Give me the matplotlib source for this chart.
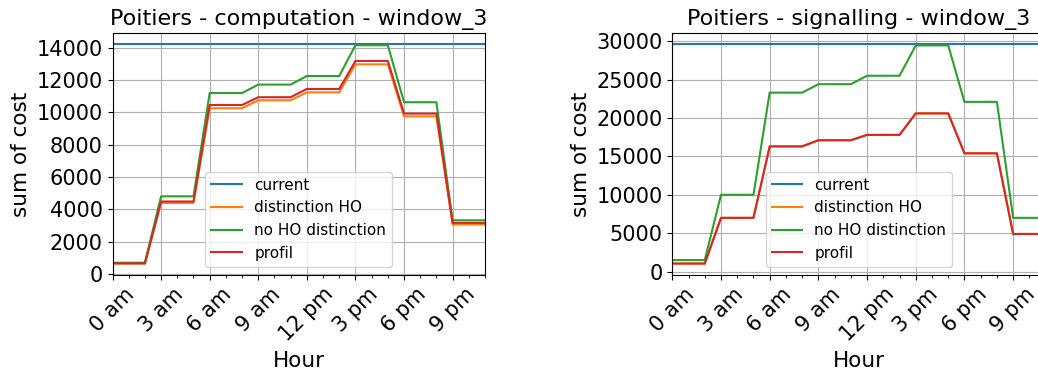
import numpy as np
import matplotlib
matplotlib.use("Agg")
import matplotlib.pyplot as plt
from matplotlib.ticker import MultipleLocator

# Horas del dia y etiquetas del eje x
horas = np.arange(24)
ticks_horas = [0, 3, 6, 9, 12, 15, 18, 21]
etiquetas_horas = ["0 am", "3 am", "6 am", "9 am", "12 pm", "3 pm", "6 pm", "9 pm"]

# Valores por ventana de 3 horas (window_3) - computation
comp_current = 14200
comp_distinction = [660, 4400, 10250, 10740, 11230, 12960, 9750, 3070]
comp_no_distinction = [710, 4810, 11190, 11710, 12240, 14140, 10620, 3330]
comp_profil = [670, 4490, 10450, 10930, 11440, 13170, 9920, 3170]

# Valores por ventana de 3 horas - signalling
sig_current = 29600
sig_distinction = [1050, 7000, 16300, 17100, 17800, 20600, 15400, 4900]
sig_no_distinction = [1500, 10000, 23300, 24400, 25500, 29450, 22100, 7000]
sig_profil = [1050, 7000, 16300, 17100, 17800, 20600, 15400, 4900]

graficas = [
    ("Poitiers - computation - window_3", comp_current, comp_distinction,
     comp_no_distinction, comp_profil, 2000),
    ("Poitiers - signalling - window_3", sig_current, sig_distinction,
     sig_no_distinction, sig_profil, 5000),
]

fig = plt.figure(figsize=(10.38, 3.74), dpi=100)
posiciones = [
    [112.5 / 1038, 1 - 274.5 / 374, 372.5 / 1038, 241.2 / 374],
    [672.3 / 1038, 1 - 274.5 / 374, 373.3 / 1038, 241.2 / 374],
]

for pos, (titulo, actual, dist, no_dist, profil, paso) in zip(posiciones, graficas):
    ax = fig.add_axes(pos)
    ax.plot(horas, [actual] * len(horas), label="current")
    ax.plot(horas, np.repeat(dist, 3), label="distinction HO")
    ax.plot(horas, np.repeat(no_dist, 3), label="no HO distinction")
    ax.plot(horas, np.repeat(profil, 3), label="profil")
    ax.set_xlim(0, 23)
    ax.set_xticks(ticks_horas)
    ax.set_xticks(horas, minor=True)
    ax.set_xticklabels(etiquetas_horas, rotation=45, ha="center")
    ax.yaxis.set_major_locator(MultipleLocator(paso))
    ax.tick_params(labelsize=15)
    ax.grid(True)
    ax.set_title(titulo, fontsize=16)
    ax.set_xlabel("Hour", fontsize=15.5)
    ax.set_ylabel("sum of cost", fontsize=15.5)
    ax.legend(loc="lower center", fontsize=11)

plt.savefig("out.png", dpi=100)
plt.close()
